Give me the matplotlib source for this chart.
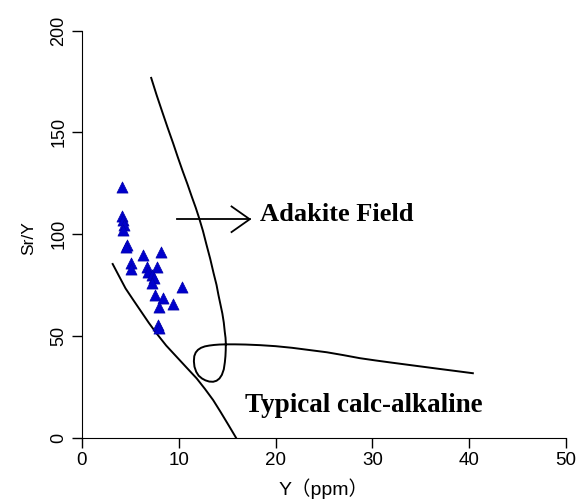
import matplotlib
matplotlib.use('Agg')
import matplotlib.pyplot as plt

# Sample points: Y (ppm) vs Sr/Y
y_ppm = [4.1, 4.1, 4.2, 4.3, 4.2, 4.6, 4.5, 6.3, 8.2, 5.1, 5.1, 6.7, 7.8, 6.8,
         7.2, 7.4, 7.2, 10.3, 7.5, 8.4, 8.0, 9.4, 7.9, 8.0]
sr_y = [123, 109, 107, 104.5, 102, 94.6, 93.8, 89.7, 91.3, 85.6, 83, 84, 84, 81.5,
        79.9, 78.2, 75.8, 74, 70, 68.4, 64.3, 65.5, 55.3, 53.7]

# Adakite field boundary (continues into the loop and the calc-alkaline limit)
adakite_x = [7.15, 7.7, 8.3, 8.85, 9.42, 9.9, 10.4, 10.9, 11.35, 11.75, 12.1,
             12.5, 12.85, 13.25, 13.6, 13.9, 14.1, 14.3, 14.5, 14.65, 14.75,
             14.83, 14.86, 14.85, 14.82, 14.76, 14.65, 14.45, 14.2, 13.9, 13.55,
             13.15, 12.75, 12.4, 12.05, 11.8, 11.62, 11.56, 11.6, 11.75, 11.98,
             12.3, 12.7, 13.15, 13.65, 14.2, 14.9, 15.8, 16.9, 18.4, 20.0, 21.7,
             23.5, 25.3, 27.0, 28.7, 30.3, 32.0, 33.6, 35.2, 36.8, 38.6, 40.38]
adakite_sr = [176.8, 168.5, 160, 152.3, 144.6, 137.8, 131, 124.5, 118.3, 113,
              107.9, 101.5, 95, 87.8, 80.7, 75, 70, 65.5, 61, 56.5, 52,
              49, 46.3, 43, 40, 37, 33.5, 30.8, 29.0, 27.9, 27.4,
              27.5, 28.1, 29.0, 30.4, 32.3, 34.8, 37.5, 40.0, 41.8, 43.1,
              44.1, 44.8, 45.2, 45.5, 45.7, 45.8, 45.8, 45.7, 45.4, 44.9, 44.1,
              43.0, 41.9, 40.5, 39.0, 37.9, 36.8, 35.8, 34.8, 33.8, 32.7, 31.6]

# Lower calc-alkaline boundary
calc_x = [3.17, 3.8, 4.5, 5.3, 6.1, 6.9, 7.7, 8.7, 9.77, 10.8, 11.84, 12.7,
          13.55, 14.3, 15.1, 15.9]
calc_sr = [85.3, 79.6, 73.3, 67.6, 62.0, 56.4, 51.2, 45.2, 39.7, 34.4, 29.1, 23.9,
           18.4, 12.7, 6.4, 0]

# Arrow pointing to the label
arrow_x = [9.8, 17.33]
arrow_sr = [107.3, 107.3]
head_x = [15.45, 17.33, 15.45]
head_sr = [113.6, 107.3, 101.0]

fig = plt.figure(figsize=(5.79, 5.0), dpi=100)
ax = fig.add_axes([0.1416, 0.125, 0.8359, 0.8136])

ax.plot(adakite_x, adakite_sr, color='black', lw=1.4, solid_joinstyle='round')
ax.plot(calc_x, calc_sr, color='black', lw=1.4, solid_joinstyle='round')
ax.plot(arrow_x, arrow_sr, color='black', lw=1.3)
ax.plot(head_x, head_sr, color='black', lw=1.3)

ax.scatter(y_ppm, sr_y, marker='^', s=64, color='#0000CC', edgecolors='#0000AA',
           linewidths=0.5, zorder=3)

ax.text(18.4, 106.5, 'Adakite Field', fontsize=19, fontweight='bold',
        family='Liberation Serif', va='baseline', ha='left')
ax.text(16.8, 12.7, 'Typical calc-alkaline', fontsize=19.5, fontweight='bold',
        family='Liberation Serif', va='baseline', ha='left')

ax.set_xlim(0, 50)
ax.set_ylim(0, 200)
ax.set_xticks([0, 10, 20, 30, 40, 50])
ax.set_yticks([0, 50, 100, 150, 200])
ax.spines['top'].set_visible(False)
ax.spines['right'].set_visible(False)
ax.tick_params(direction='out', length=7, width=1)
ax.tick_params(axis='x', labelsize=13.5)
ax.tick_params(axis='y', labelsize=13)
for lab in ax.get_yticklabels():
    lab.set_rotation(90)
    lab.set_va('center')
for lab in ax.get_xticklabels() + ax.get_yticklabels():
    lab.set_family('Liberation Sans')

ax.set_ylabel('Sr/Y', fontsize=12.5, family='Liberation Sans')
ax.yaxis.set_label_coords(-0.095, 0.49)
ax.set_xlabel('Y（ppm）', fontsize=14, family=['Liberation Sans', 'Noto Sans CJK SC'])
ax.xaxis.set_label_coords(0.5, -0.1)

fig.savefig('out.png', dpi=100)
